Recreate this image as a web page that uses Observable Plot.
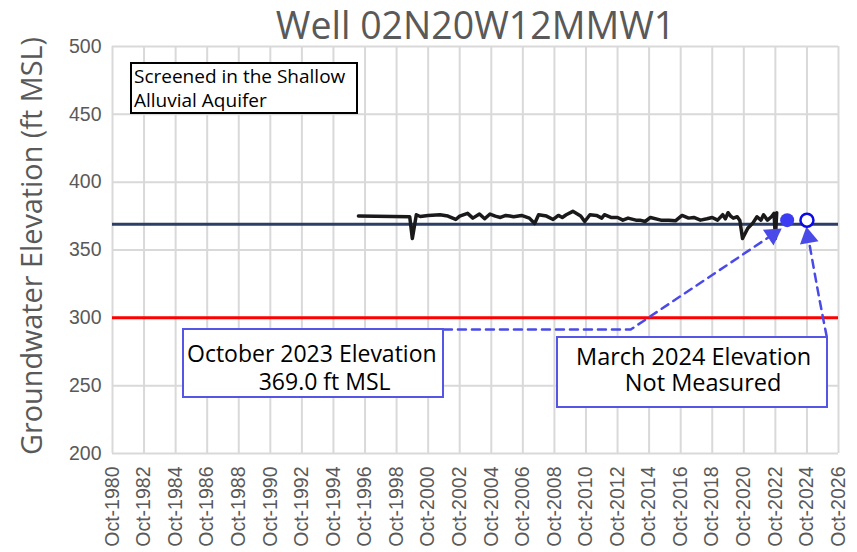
<!DOCTYPE html>
<html><head><meta charset="utf-8">
<script src="https://cdn.jsdelivr.net/npm/d3@7"></script>
<script src="https://cdn.jsdelivr.net/npm/@observablehq/plot@0.6"></script>
<style>
body{margin:0;background:#fff;}
#wrap{position:relative;width:857px;height:552px;overflow:hidden;}
.box{position:absolute;background:#fff;box-sizing:border-box;font-family:"Open Sans";color:#000;white-space:pre;}
.box div{position:absolute;}
</style></head><body><div id="wrap"></div>
<script>
// ---- data ----
const obsDates = ["1996-05","1999-08","1999-10","2000-01","2000-04","2000-10","2001-07","2002-01","2002-07","2002-10",
  "2003-04","2003-08","2004-01","2004-05","2004-09","2005-01","2005-05","2005-09","2005-12","2006-03",
  "2006-09","2007-03","2007-07","2007-10","2008-04","2008-09","2009-01","2009-04","2009-07","2009-12",
  "2010-06","2010-09","2011-01","2011-06","2011-10","2011-12","2012-05","2012-10","2013-02","2013-06",
  "2013-12","2014-03","2014-07","2014-11","2015-07","2016-01","2016-06","2016-11","2017-04","2017-08",
  "2018-01","2018-06","2018-10","2019-02","2019-06","2019-08","2019-10","2019-12","2020-02","2020-05",
  "2020-07","2020-09","2021-01","2021-05","2021-08","2021-11","2022-01","2022-04","2022-07","2022-09",
  "2022-10","2022-11"];
const obsLevels = [375,374.5,358.5,376,374.7,375.5,376,375,372.5,375,
  377,373.5,376.5,373,376.5,375,374,375.5,375,374.5,
  375.5,373.5,369.5,376,375,372.5,375.5,374,376,378.5,
  375,371,376,375.5,373.5,376,374,374,372,373.5,
  372,372,371,374,372,372,371.5,375.5,373.5,374,
  372,373,374,372,376,373,377.5,375,373.5,374.5,
  371.7,358.5,366,370,374.5,372,376,372,374.5,377,
  358.5,377.5];
const measuredDates = ["2023-07"];
const measuredLevels = [372];
const missingDates = ["2024-10"];
const missingLevels = [372];
const octoberLevel = 369.0;
const thresholdLevel = 300;
const yTicks = [200,250,300,350,400,450,500];
const xTickYears = d3.range(1980, 2027, 2);
const arrow1Dates = ["2001-10","2013-08","2022-08"];
const arrow1Levels = [291.4,291.4,361.4];
const arrow2Dates = ["2026-01","2025-07","2024-11"];
const arrow2Levels = [286.2,316.4,359.2];
const headDates = ["2022-08","2024-11"];
const headLevels = [361.4,359.2];
const headAngles = [56,-10];
const titleText = "Well 02N20W12MMW1";
const yLabel = "Groundwater Elevation (ft MSL)";
const noteText = "Screened in the Shallow\nAlluvial Aquifer";
const octText = "October 2023 Elevation\n            369.0 ft MSL";
const marText = "March 2024 Elevation\n        Not Measured";

// ---- build ----
const parse = d3.utcParse("%Y-%m");
const toRows = (ds, vs) => ds.map((d,i) => ({date: parse(d), value: vs[i]}));
const obs = toRows(obsDates, obsLevels);
const measured = toRows(measuredDates, measuredLevels);
const missing = toRows(missingDates, missingLevels);
const arrow1 = toRows(arrow1Dates, arrow1Levels);
const arrow2 = toRows(arrow2Dates, arrow2Levels);
const heads = headDates.map((d,i) => ({date: parse(d), value: headLevels[i], angle: headAngles[i]}));
const xTicks = xTickYears.map(y => new Date(Date.UTC(y, 9, 1)));
const xDomain = [xTicks[0], xTicks[xTicks.length-1]];
const fmt = d3.utcFormat("%Y");

const blue = "#4a4ae8";
const chart = Plot.plot({
  width: 857, height: 552,
  marginLeft: 112, marginRight: 19, marginTop: 46, marginBottom: 99,
  style: {fontFamily: "Liberation Sans", color: "#595959", background: "#fff"},
  x: {type: "utc", domain: xDomain},
  y: {domain: [200, 500]},
  marks: [
    Plot.gridX(xTicks, {stroke: "#d9d9d9", strokeOpacity: 1, strokeWidth: 2}),
    Plot.gridY(yTicks, {stroke: "#d9d9d9", strokeOpacity: 1, strokeWidth: 2}),
    Plot.axisY({ticks: yTicks, tickSize: 0, tickPadding: 11, fontSize: 19.5, fill: "#595959", label: null}),
    Plot.axisX({ticks: xTicks, tickSize: 0, tickPadding: 13, tickRotate: -90, fontSize: 19.5, fill: "#595959",
      tickFormat: d => "Oct-" + fmt(d), label: null}),
    Plot.ruleY([thresholdLevel], {stroke: "#ff0000", strokeWidth: 3}),
    Plot.ruleY([octoberLevel], {stroke: "#2e3d66", strokeWidth: 3}),
    Plot.line(obs, {x: "date", y: "value", stroke: "#1a1a1a", strokeWidth: 3.5, strokeLinejoin: "round", curve: "linear"}),
    Plot.line(arrow1, {x: "date", y: "value", stroke: blue, strokeWidth: 2.5, strokeDasharray: "8,6"}),
    Plot.line(arrow2, {x: "date", y: "value", stroke: blue, strokeWidth: 2.5, strokeDasharray: "8,6", curve: "catmull-rom"}),
    Plot.dot(heads, {x: "date", y: "value", symbol: "triangle", r: 7, fill: blue, stroke: "none", rotate: "angle"}),
    Plot.dot(measured, {x: "date", y: "value", r: 7, fill: "#3b3bf2", stroke: "none"}),
    Plot.dot(missing, {x: "date", y: "value", r: 6.5, fill: "#fff", stroke: "#0a0ae6", strokeWidth: 2.5}),
    Plot.text([titleText], {frameAnchor: "top", dy: -8, lineAnchor: "bottom", fontSize: 37.5, fontFamily: "Open Sans", fill: "#595959"}),
    Plot.text([yLabel], {frameAnchor: "left", dx: -80, dy: -4, rotate: -90, textAnchor: "middle", fontSize: 28.8, fontFamily: "Open Sans", fill: "#595959"})
  ]
});
const wrap = document.getElementById("wrap");
wrap.appendChild(chart);

function box(l, t, w, h, border, size, lh, txt, dl, dt) {
  const b = document.createElement("div");
  b.className = "box";
  Object.assign(b.style, {left: l+"px", top: t+"px", width: w+"px", height: h+"px", border: border, fontSize: size+"px", lineHeight: lh+"px"});
  const d = document.createElement("div");
  d.textContent = txt;
  Object.assign(d.style, {left: dl+"px", top: dt+"px"});
  b.appendChild(d);
  wrap.appendChild(b);
}
box(130, 62, 228, 52, "2px solid #000", 19, 24, noteText, 2, -0.5);
box(182, 328, 262, 70, "2px solid #5555e6", 23, 28, octText, 3, 8.5);
box(556, 336, 272, 72, "2px solid #5555e6", 23.5, 26, marText, 18, 4.75);
</script></body></html>
